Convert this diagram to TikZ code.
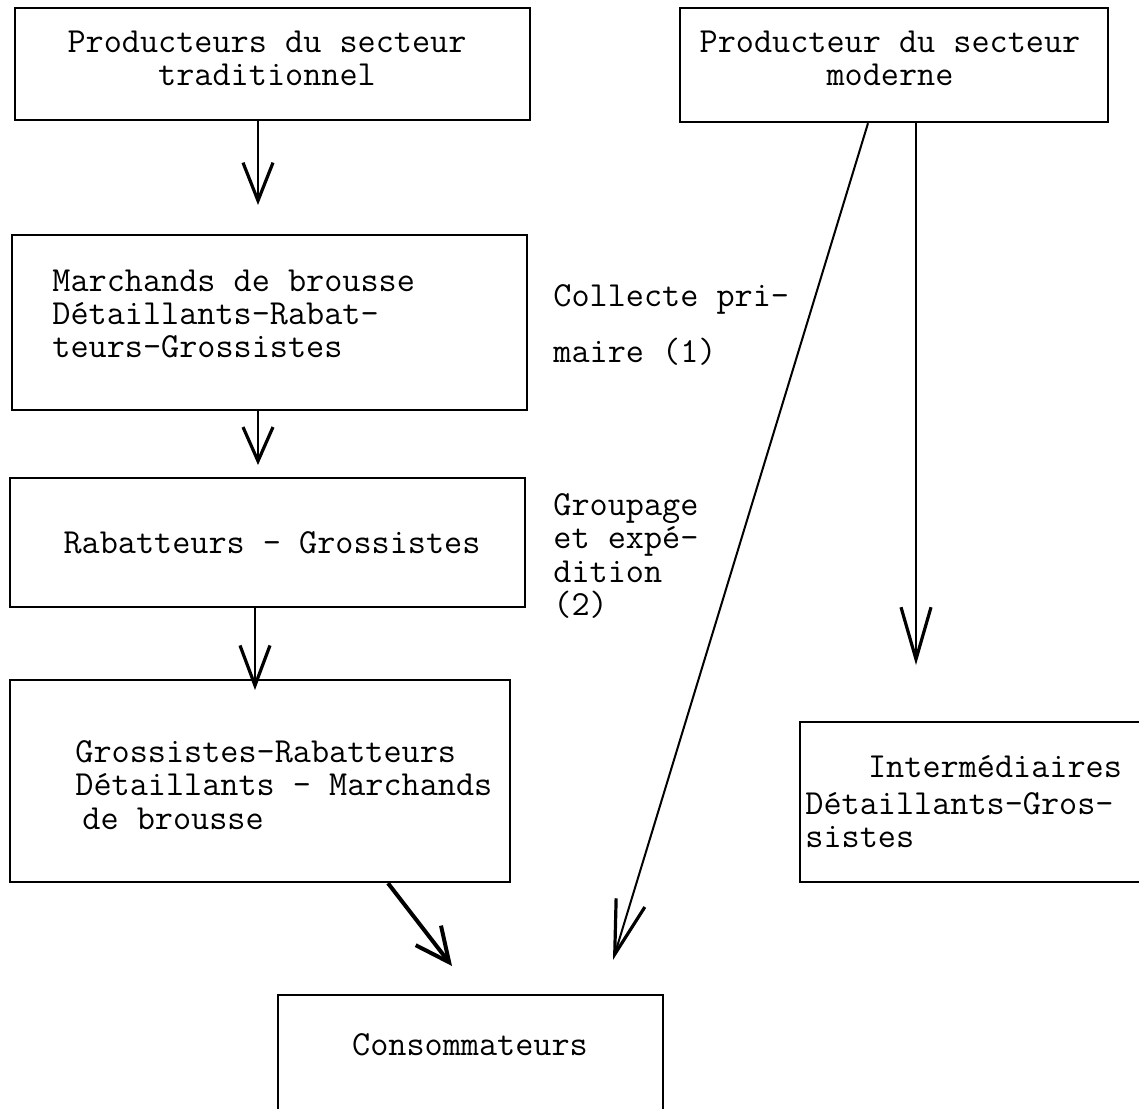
\documentclass[tikz,border=0pt]{standalone}
\usepackage{fontspec}
\usetikzlibrary{arrows.meta,calc}
\begin{document}
\begin{tikzpicture}[x=0.5pt,y=-0.5pt,
 box/.style={draw, line width=1.2pt, inner sep=0pt},
 txt/.style={font=\ttfamily\fontsize{17.6}{16.6}\selectfont, inner sep=0pt, align=center},
 ltxt/.style={font=\ttfamily\fontsize{17.6}{16.6}\selectfont, inner sep=0pt, align=left},
 arr/.style={line width=1pt, -{Straight Barb[length=#1,width=15pt,line width=1.6pt]}},
 arr/.default=18pt,
 thickarr/.style={line width=2pt, -{Straight Barb[length=17pt,width=16pt,line width=2pt]}}]
\useasboundingbox (0,0) rectangle (1139,1108);
\clip (0,0) rectangle (1139,1108);
\fill[white] (0,0) rectangle (1139,1108);
% boxes
\node[box, minimum width=257.5pt, minimum height=56pt] (b1) at (272.5,64) {};
\node[txt] (t1) at (267,58) {Producteurs du secteur\\traditionnel};
\node[box, minimum width=214pt, minimum height=57pt] (b2) at (894,65) {};
\node[txt] (t2) at (890,58) {Producteur du secteur\\moderne};
\node[box, minimum width=257.5pt, minimum height=87.5pt] (b3) at (269.5,322.5) {};
\node[ltxt, anchor=west] (t3) at (52,314) {Marchands de brousse\\Détaillants-Rabat-\\teurs-Grossistes};
\node[box, minimum width=257.5pt, minimum height=64.5pt] (b4) at (267.5,542.5) {};
\node[txt] (t4) at (272,543) {Rabatteurs - Grossistes};
\node[box, minimum width=250pt, minimum height=101pt] (b5) at (260,781) {};
\node[ltxt, anchor=west] (t5) at (75,785) {Grossistes-Rabatteurs\\Détaillants - Marchands\\\hspace*{3.5pt}de brousse};
\node[box, minimum width=190pt, minimum height=80pt] (b6) at (990,802) {};
\node[txt] (t6a) at (995,767) {Intermédiaires};
\node[ltxt, anchor=west] (t6b) at (805,820) {Détaillants-Gros-\\sistes};
\node[box, minimum width=192.5pt, minimum height=75pt] (b7) at (470.5,1070) {};
\node[txt] (t7) at (470,1045) {Consommateurs};
% side labels
\node[ltxt, anchor=west] (l1) at (553,325) {Collecte pri-\\[11pt]maire (1)};
\node[ltxt, anchor=west] (l2) at (553,556) {Groupage\\et expé-\\dition\\(2)};
% arrows
\coordinate (e1) at (258,205);
\draw[arr=19pt] (b1.south -| e1) -- (e1);
\coordinate (e2) at (258,465);
\draw[arr=17pt] (b3.south -| e2) -- (e2);
\coordinate (e3) at (255,690);
\draw[arr=20pt] (b4.south -| e3) -- (e3);
\coordinate (s4) at (388,0);
\coordinate (e4) at (452,966);
\draw[thickarr] (b5.south -| s4) -- (e4);
\coordinate (s5) at (868,0);
\coordinate (e5) at (613,960);
\draw[arr=27pt] (b2.south -| s5) -- (e5);
\coordinate (e6) at (916,665);
\draw[arr=26pt] (b2.south -| e6) -- (e6);
\end{tikzpicture}
\end{document}
